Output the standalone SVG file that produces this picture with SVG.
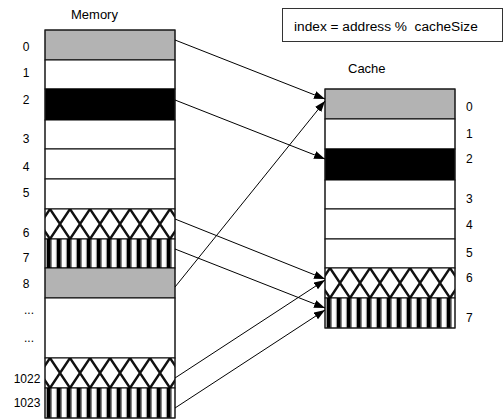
<svg xmlns="http://www.w3.org/2000/svg" width="504" height="419" viewBox="0 0 504 419">
<style>
text { font-family: "Liberation Sans", Arial, sans-serif; fill: #000; }
.title { font-size: 13px; }
.idx { font-size: 12px; }
.midx { font-size: 12px; text-anchor: middle; }
.row { stroke: #000; stroke-width: 1; }
.white { fill: #fff; }
.gray { fill: #b3b3b3; }
.black { fill: #000; }
.cross { fill: url(#crosshatch); }
.stripe { fill: url(#stripes); }
.frame { fill: none; stroke: #222; stroke-width: 1; }
.conn { stroke: #000; stroke-width: 1; fill: none; marker-end: url(#arrow); }
</style>
<defs>
<pattern id="crosshatch" patternUnits="userSpaceOnUse" x="5" y="0" width="20" height="30">
<rect x="0" y="0" width="20" height="30" fill="#fff"/>
<path d="M-24,-6 L4,36 M-4,-6 L24,36 M16,-6 L44,36 M4,-6 L-24,36 M24,-6 L-4,36 M44,-6 L16,36" stroke="#111" stroke-width="2.4" fill="none"/>
</pattern>
<pattern id="stripes" patternUnits="userSpaceOnUse" x="0" y="0" width="10" height="30">
<rect x="0" y="0" width="10" height="30" fill="#fff"/>
<rect x="0.8" y="0" width="1" height="30" fill="#bbb"/>
<rect x="1.8" y="0" width="4" height="30" fill="#000"/>
<rect x="5.8" y="0" width="1.2" height="30" fill="#888"/>
</pattern>
<marker id="arrow" markerUnits="userSpaceOnUse" markerWidth="12" markerHeight="9" refX="11" refY="4" orient="auto">
<path d="M0,0 L11,4 L0,8 z" fill="#000"/>
</marker>
</defs>

<g id="formula">
<rect x="282.5" y="8.5" width="220" height="33" fill="#fff" stroke="#333" stroke-width="1"/>
<text x="294" y="31" font-size="13.7" xml:space="preserve">index = address %  cacheSize</text>
</g>

<g id="memory">
<text class="title" x="71" y="19">Memory</text>
<g id="mem-0"><rect class="row gray" x="45" y="30" width="130" height="30"/><text class="midx" x="26" y="51">0</text></g>
<g id="mem-1"><rect class="row white" x="45" y="60" width="130" height="29"/><text class="midx" x="26" y="77">1</text></g>
<g id="mem-2"><rect class="row black" x="45" y="89" width="130" height="31"/><text class="midx" x="26" y="104">2</text></g>
<g id="mem-3"><rect class="row white" x="45" y="120" width="130" height="29"/><text class="midx" x="26" y="143">3</text></g>
<g id="mem-4"><rect class="row white" x="45" y="149" width="130" height="30"/><text class="midx" x="26" y="171">4</text></g>
<g id="mem-5"><rect class="row white" x="45" y="179" width="130" height="30"/><text class="midx" x="26" y="197">5</text></g>
<g id="mem-6"><g transform="translate(45,209)"><rect class="row cross" x="0" y="0" width="130" height="30"/></g><text class="midx" x="26" y="237">6</text></g>
<g id="mem-7"><g transform="translate(45,239)"><rect class="row stripe" x="0" y="0" width="130" height="29"/></g><text class="midx" x="26" y="262">7</text></g>
<g id="mem-8"><rect class="row gray" x="45" y="268" width="130" height="30"/><text class="midx" x="26" y="288">8</text></g>
<g id="mem-dots"><rect class="row white" x="45" y="298" width="130" height="60"/><text class="midx" x="29" y="314">...</text><text class="midx" x="29" y="342">...</text></g>
<g id="mem-1022"><g transform="translate(45,358)"><rect class="row cross" x="0" y="0" width="130" height="30"/></g><text class="midx" x="27" y="383">1022</text></g>
<g id="mem-1023"><g transform="translate(45,388)"><rect class="row stripe" x="0" y="0" width="130" height="30"/></g><text class="midx" x="27" y="407">1023</text></g>
<rect class="frame" x="45" y="30" width="130" height="388"/>
</g>

<g id="cache">
<text class="title" x="348" y="73">Cache</text>
<g id="cache-0"><rect class="row gray" x="325" y="89" width="130" height="30"/><text class="idx" x="466" y="111">0</text></g>
<g id="cache-1"><rect class="row white" x="325" y="119" width="130" height="30"/><text class="idx" x="466" y="138">1</text></g>
<g id="cache-2"><rect class="row black" x="325" y="149" width="130" height="31"/><text class="idx" x="466" y="163">2</text></g>
<g id="cache-3"><rect class="row white" x="325" y="180" width="130" height="29"/><text class="idx" x="466" y="203">3</text></g>
<g id="cache-4"><rect class="row white" x="325" y="209" width="130" height="30"/><text class="idx" x="466" y="229">4</text></g>
<g id="cache-5"><rect class="row white" x="325" y="239" width="130" height="29"/><text class="idx" x="466" y="257">5</text></g>
<g id="cache-6"><g transform="translate(325,268)"><rect class="row cross" x="0" y="0" width="130" height="30"/></g><text class="idx" x="466" y="282">6</text></g>
<g id="cache-7"><g transform="translate(325,298)"><rect class="row stripe" x="0" y="0" width="130" height="30"/></g><text class="idx" x="466" y="322">7</text></g>
<rect class="frame" x="325" y="89" width="130" height="239"/>
</g>

<g id="connectors">
<path class="conn" d="M175,40 L325,99"/>
<path class="conn" d="M175,100 L325,159"/>
<path class="conn" d="M175,287 L325,101"/>
<path class="conn" d="M175,219 L325,279"/>
<path class="conn" d="M175,249 L325,308"/>
<path class="conn" d="M175,378 L325,280"/>
<path class="conn" d="M175,408 L325,310"/>
</g>
</svg>
